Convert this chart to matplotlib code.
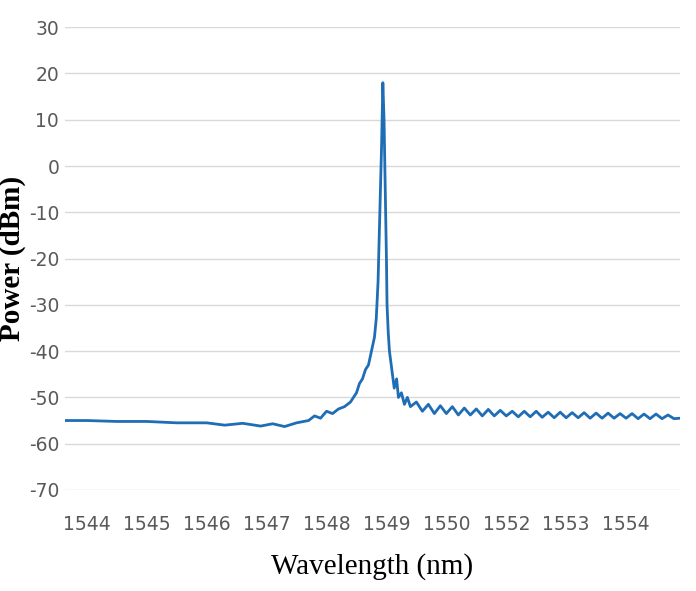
import matplotlib.pyplot as plt
plt.rcParams['axes.unicode_minus'] = False

tick_labels = ['1544','1545','1546','1547','1548','1549','1550','1552','1553','1554']
# x in tick-index units
x_left = [-0.4,0,0.5,1,1.5,2,2.3,2.6,2.9,3.1,3.3,3.5,3.7,3.8,3.9,4.0,4.1,4.2,4.3,4.4,4.5,4.55,4.6,4.65,4.7,4.75,4.8,4.83,4.86,4.89,4.92,4.94,4.96,4.98,5.0,5.01,5.03,5.05,5.08,5.1,5.13,5.17,5.2,5.25,5.3,5.35,5.4]
y_left = [-55,-55,-55.2,-55.2,-55.5,-55.5,-56,-55.6,-56.2,-55.7,-56.3,-55.5,-55,-54,-54.5,-53,-53.5,-52.5,-52,-51,-49,-47,-46,-44,-43,-40,-37,-33,-25,-10,5,18,10,-5,-20,-30,-36,-40,-43,-45,-48,-46,-50,-49,-51.5,-50,-52]
x_right = [5.5,5.6,5.7,5.8,5.9,6.0,6.1,6.2,6.3,6.4,6.5,6.6,6.7,6.8,6.9,7.0,7.1,7.2,7.3,7.4,7.5,7.6,7.7,7.8,7.9,8.0,8.1,8.2,8.3,8.4,8.5,8.6,8.7,8.8,8.9,9.0,9.1,9.2,9.3,9.4,9.5,9.6,9.7,9.8,9.9]
y_right = [-51,-53,-51.5,-53.5,-51.8,-53.5,-52,-53.8,-52.3,-53.8,-52.5,-54,-52.6,-54,-52.8,-54,-53,-54.2,-53,-54.2,-53,-54.3,-53.2,-54.4,-53.2,-54.4,-53.3,-54.4,-53.3,-54.5,-53.4,-54.5,-53.4,-54.5,-53.5,-54.5,-53.5,-54.6,-53.6,-54.6,-53.6,-54.6,-53.8,-54.6,-54.5]

x = x_left + x_right
y = y_left + y_right

fig = plt.figure(figsize=(6.96,5.91), dpi=100)
ax = fig.add_axes([0.093,0.171,0.884,0.783])
ax.plot(x, y, color='#1f6db4', lw=2)
ax.set_xlim(-0.37,9.9)
ax.set_ylim(-70,30)
ax.set_yticks(range(-70,31,10))
ax.set_xticks(range(len(tick_labels)))
ax.set_xticklabels(tick_labels)
ax.grid(axis='y', color='#d9d9d9', lw=1)
ax.set_axisbelow(True)
for s in ax.spines.values():
    s.set_visible(False)
ax.tick_params(length=0, labelsize=13.5, labelcolor='#595959', pad=18)
ax.tick_params(axis='y', pad=4)
ax.set_xlabel('Wavelength (nm)', family='Liberation Serif', fontsize=21, labelpad=14)
ax.set_ylabel('Power (dBm)', family='Liberation Serif', fontsize=21, fontweight='bold', labelpad=2)
fig.savefig('out.png')
